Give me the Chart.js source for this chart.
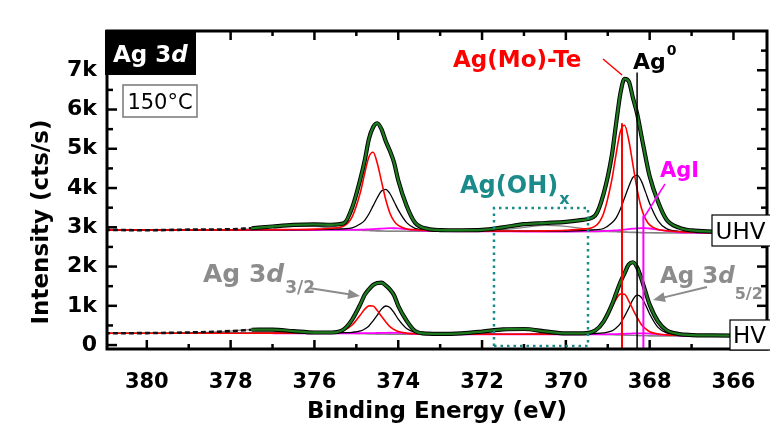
<!DOCTYPE html>
<html>
<head>
<meta charset="utf-8">
<script src="https://cdn.jsdelivr.net/npm/chart.js@4.4.0/dist/chart.umd.min.js"></script>
<style>
  html, body { margin: 0; padding: 0; background: #fff; }
  #wrap { width: 770px; height: 431px; }
</style>
</head>
<body>
<div id="wrap"><canvas id="xps" width="770" height="431"></canvas></div>
<script>
// binding energy grid (eV), shared by every curve
const energy = [381, 380, 379, 378, 377.5, 377, 376.5, 376,
  375.6, 375.3, 375.1, 374.9, 374.8, 374.7, 374.6, 374.5, 374.4, 374.3, 374.2, 374.1, 374.0,
  373.8, 373.6, 373.3, 373, 372.5, 372, 371.5, 371, 370.5, 370,
  369.6, 369.3, 369.1, 368.9, 368.8, 368.7, 368.6, 368.5, 368.4, 368.3, 368.2, 368.1, 368.0,
  367.8, 367.6, 367.3, 367, 366.5, 366, 365.2];

// UHV spectrum (cts/s)
const uhvData = [2935, 2925, 2940, 2950, 2975, 3020, 3060, 3075,
  3065, 3100, 3500, 4250, 4700, 5250, 5550, 5650, 5500, 5200, 4950, 4650, 4200,
  3550, 3120, 2960, 2930, 2925, 2935, 3000, 3080, 3110, 3140,
  3190, 3300, 3850, 4850, 5650, 6400, 6780, 6720, 6300, 5900, 5350, 4800, 4300,
  3650, 3200, 2990, 2920, 2890, 2880, 2870];
const uhvAgMoTe = [2930, 2930, 2931, 2934, 2936, 2939, 2944, 2954,
  2976, 3031, 3267, 3905, 4375, 4791, 4910, 4633, 4171, 3713, 3366, 3158, 3047,
  2957, 2937, 2919, 2911, 2905, 2904, 2904, 2904, 2910, 2923,
  2953, 3029, 3353, 4227, 4869, 5438, 5601, 5224, 4597, 3972, 3498, 3214, 3062,
  2941, 2913, 2888, 2877, 2869, 2865, 2860];
const uhvAg0 = [2930, 2931, 2932, 2933, 2934, 2935, 2937, 2942,
  2950, 2961, 2985, 3089, 3178, 3338, 3545, 3754, 3923, 3967, 3861, 3657, 3442,
  3120, 2975, 2926, 2914, 2908, 2905, 2902, 2902, 2903, 2906,
  2918, 2935, 2969, 3116, 3240, 3461, 3747, 4035, 4269, 4329, 4183, 3902, 3607,
  3165, 2965, 2898, 2881, 2868, 2864, 2859];
const uhvAgI = [2930, 2930, 2930, 2930, 2930, 2930, 2930, 2931,
  2933, 2934, 2935, 2939, 2943, 2947, 2953, 2960, 2967, 2973, 2977, 2976, 2970,
  2951, 2930, 2908, 2901, 2897, 2895, 2894, 2893, 2893, 2892,
  2894, 2897, 2901, 2913, 2921, 2929, 2940, 2952, 2965, 2974, 2979, 2977, 2969,
  2940, 2908, 2874, 2863, 2858, 2857, 2856];
const uhvAgOH = [2931, 2932, 2934, 2942, 2962, 3003, 3039, 3021,
  2985, 2960, 2947, 2934, 2928, 2922, 2917, 2912, 2908, 2905, 2903, 2902, 2900,
  2901, 2898, 2899, 2900, 2903, 2912, 2940, 2999, 3050, 3023,
  2970, 2935, 2919, 2905, 2897, 2891, 2885, 2879, 2875, 2871, 2868, 2865, 2863,
  2861, 2859, 2858, 2858, 2856, 2855, 2855];
const uhvBackground = [2930, 2930, 2930, 2930, 2930, 2930, 2930, 2930,
  2930, 2928, 2925, 2920, 2916, 2912, 2908, 2904, 2901, 2899, 2898, 2897, 2896,
  2895, 2895, 2895, 2895, 2895, 2895, 2894, 2893, 2892, 2890,
  2890, 2889, 2887, 2884, 2880, 2876, 2872, 2868, 2865, 2862, 2860, 2858, 2857,
  2856, 2855, 2855, 2855, 2855, 2855, 2855];

// HV spectrum (cts/s)
const hvData = [300, 305, 320, 355, 390, 395, 355, 320,
  320, 400, 650, 1050, 1280, 1420, 1530, 1580, 1590, 1520, 1420, 1270, 1000,
  620, 360, 290, 285, 300, 345, 400, 410, 350, 300,
  300, 370, 600, 1030, 1320, 1600, 1830, 2050, 2110, 1980, 1700, 1360, 1030,
  600, 380, 280, 255, 245, 240, 238];
const hvAgMoTe = [300, 300, 301, 302, 303, 304, 307, 312,
  325, 378, 512, 775, 912, 999, 996, 881, 733, 593, 468, 395, 344,
  303, 289, 282, 278, 275, 274, 274, 276, 280, 288,
  306, 385, 582, 967, 1168, 1297, 1293, 1126, 910, 705, 524, 417, 341,
  282, 260, 250, 244, 239, 237, 235];
const hvAg0 = [300, 300, 301, 302, 302, 303, 304, 306,
  310, 316, 325, 361, 411, 488, 618, 762, 915, 995, 958, 825, 661,
  421, 324, 290, 281, 277, 276, 274, 274, 276, 279,
  285, 295, 308, 361, 435, 545, 732, 939, 1158, 1271, 1219, 1027, 792,
  450, 309, 260, 248, 240, 237, 235];
const hvAgI = [null, null, null, null, null, 300, 300, 300,
  300, 301, 301, 302, 303, 304, 306, 308, 311, 313, 314, 313, 309,
  298, 288, 276, 273, 271, 270, 270, 270, 270, 271,
  272, 273, 274, 277, 280, 283, 287, 291, 296, 299, 299, 297, 292,
  276, 258, 242, 236, 234, 232, 232];
const hvAgOH = [301, 302, 308, 354, 395, 389, 347, 317,
  308, 302, 299, 294, 291, 288, 285, 282, 280, 278, 276, 275, 275,
  273, 274, 276, 281, 299, 346, 403, 394, 335, 294,
  281, 275, 272, 267, 263, 259, 255, 251, 248, 245, 242, 240, 237,
  235, 232, 232, 232, 232, 232, 232];
const hvBackground = [300, 300, 300, 300, 300, 300, 300, 300,
  300, 298, 296, 292, 289, 286, 283, 280, 278, 276, 274, 273, 272,
  270, 270, 270, 270, 270, 270, 270, 270, 270, 270,
  270, 269, 267, 263, 260, 257, 253, 249, 246, 243, 240, 238, 236,
  234, 232, 232, 232, 232, 232, 232];

// the fit envelope only covers the low-energy side of this value (eV)
const fitStart = 377.5;

// Ag 3d5/2 component positions (eV) and how high their marker lines reach
const markerEnergy = [368.66, 368.30, 368.15];
const markerTop = [5650, 6940, 3300];
const markerColor = ['#ff0000', '#000000', '#ff00ff'];

const xTickValues = [366, 367, 368, 369, 370, 371, 372, 373, 374, 375, 376, 377, 378, 379, 380];
const yTickValues = [0, 500, 1000, 1500, 2000, 2500, 3000, 3500, 4000, 4500, 5000, 5500, 6000, 6500, 7000, 7500];

const FONT = 'DejaVu Sans';
const GREY = '#8c8c8c';
const TEAL = '#1b8a8a';

const pts = arr => energy.map((e, i) => ({ x: e, y: arr[i] }));
const fitPts = arr => energy.map((e, i) => ({ x: e, y: e <= fitStart ? arr[i] : null }));
const tailPts = arr => energy.map((e, i) => ({ x: e, y: e >= fitStart ? arr[i] : null }));

function curve(points, color, width, dash) {
  return { data: points, borderColor: color, borderWidth: width, pointRadius: 0,
    borderDash: dash || [], cubicInterpolationMode: 'monotone', fill: false, spanGaps: false };
}

const datasets = [];
markerEnergy.forEach((e, i) => {
  datasets.push({ data: [{ x: e, y: -100 }, { x: e, y: markerTop[i] }],
    borderColor: markerColor[i], borderWidth: i === 1 ? 1.5 : 2, pointRadius: 0 });
});
[uhvData, hvData].forEach(d => {
  datasets.push(curve(fitPts(d), '#1e7a1e', 2.3));
  datasets.push(curve(fitPts(d), '#000', 4.2));
  datasets.push(curve(tailPts(d), '#111', 2.6, [5, 3]));
});
datasets.push(curve(pts(uhvAgMoTe), '#ff0000', 1.6), curve(pts(uhvAg0), '#000', 1.3),
  curve(pts(uhvAgI), '#ff00ff', 1.8), curve(pts(uhvAgOH), '#808080', 1.3), curve(pts(uhvBackground), '#9a9a9a', 1.2));
datasets.push(curve(pts(hvAgMoTe), '#ff0000', 1.6), curve(pts(hvAg0), '#000', 1.3),
  curve(pts(hvAgI), '#ff00ff', 1.8), curve(pts(hvAgOH), '#808080', 1.3), curve(pts(hvBackground), '#9a9a9a', 1.2));

function text(ctx, s, x, y, font, color, align) {
  ctx.font = font;
  ctx.fillStyle = color;
  ctx.textAlign = align || 'left';
  ctx.textBaseline = 'alphabetic';
  ctx.fillText(s, x, y);
  return ctx.measureText(s).width;
}

function line(ctx, x1, y1, x2, y2) {
  ctx.beginPath();
  ctx.moveTo(x1, y1);
  ctx.lineTo(x2, y2);
  ctx.stroke();
}

function arrow(ctx, x1, y1, x2, y2, color) {
  const a = Math.atan2(y2 - y1, x2 - x1);
  const c = Math.cos(a), s = Math.sin(a);
  ctx.strokeStyle = color;
  ctx.fillStyle = color;
  ctx.lineWidth = 2;
  line(ctx, x1, y1, x2 - 8 * c, y2 - 8 * s);
  ctx.beginPath();
  ctx.moveTo(x2, y2);
  ctx.lineTo(x2 - 12 * c + 5 * s, y2 - 12 * s - 5 * c);
  ctx.lineTo(x2 - 12 * c - 5 * s, y2 - 12 * s + 5 * c);
  ctx.closePath();
  ctx.fill();
}

// frame, inward ticks, axis titles and the labels in the plot
const decorations = {
  id: 'decorations',
  afterDraw(chart) {
    const { ctx, chartArea: a, scales: { x, y } } = chart;
    ctx.save();
    ctx.strokeStyle = '#000';
    ctx.lineWidth = 3;
    ctx.strokeRect(a.left, a.top, a.right - a.left, a.bottom - a.top);

    ctx.lineWidth = 2.5;
    x.ticks.forEach(t => {
      const p = x.getPixelForValue(t.value);
      const len = t.value % 2 === 0 ? 9 : 5;
      line(ctx, p, a.bottom, p, a.bottom - len);
      line(ctx, p, a.top, p, a.top + len);
    });
    y.ticks.forEach(t => {
      const p = y.getPixelForValue(t.value);
      const len = t.value % 1000 === 0 ? 10 : 6;
      line(ctx, a.left, p, a.left + len, p);
      line(ctx, a.right, p, a.right - len, p);
    });

    // axis titles
    ctx.textBaseline = 'middle';
    ctx.textAlign = 'center';
    ctx.fillStyle = '#000';
    ctx.font = 'bold 23px ' + FONT;
    ctx.fillText('Binding Energy (eV)', (a.left + a.right) / 2, 412);
    ctx.save();
    ctx.translate(42, 222);
    ctx.rotate(-Math.PI / 2);
    ctx.fillText('Intensity (cts/s)', 0, 0);
    ctx.restore();

    // "Ag 3d" tag
    ctx.fillStyle = '#000';
    ctx.fillRect(105, 30, 91, 45);
    let w = text(ctx, 'Ag 3', 113, 62, 'bold 23px ' + FONT, '#fff');
    text(ctx, 'd', 113 + w, 62, 'italic bold 23px ' + FONT, '#fff');

    // temperature box
    ctx.fillStyle = '#fff';
    ctx.fillRect(123, 85, 74, 32);
    ctx.strokeStyle = '#777';
    ctx.lineWidth = 1.5;
    ctx.strokeRect(123, 85, 74, 32);
    text(ctx, '150°C', 160, 109, '21px ' + FONT, '#000', 'center');

    // spectrum tags
    ctx.strokeStyle = '#000';
    ctx.lineWidth = 1.2;
    [['UHV', 712, 215, 60, 31], ['HV', 730, 320, 42, 30]].forEach(([s, bx, by, bw, bh]) => {
      ctx.fillStyle = '#fff';
      ctx.fillRect(bx, by, bw, bh);
      ctx.strokeRect(bx, by, bw, bh);
      text(ctx, s, bx + (Math.min(bx + bw, 769) - bx) / 2, by + bh - 7, '23px ' + FONT, '#000', 'center');
    });

    // component labels
    text(ctx, 'Ag(Mo)-Te', 453, 67, 'bold 23px ' + FONT, '#ff0000');
    ctx.strokeStyle = '#ff0000';
    ctx.lineWidth = 1.5;
    line(ctx, 603, 59, 622, 75);

    w = text(ctx, 'Ag', 633, 69, 'bold 22px ' + FONT, '#000');
    text(ctx, '0', 634 + w, 55, 'bold 14px ' + FONT, '#000');

    text(ctx, 'AgI', 660, 177, 'bold 21px ' + FONT, '#ff00ff');
    ctx.strokeStyle = '#ff00ff';
    ctx.lineWidth = 1.5;
    line(ctx, 665, 184, 643, 219);

    w = text(ctx, 'Ag(OH)', 460, 193, 'bold 24px ' + FONT, TEAL);
    text(ctx, 'x', 461 + w, 204, 'bold 16px ' + FONT, TEAL);
    ctx.strokeStyle = TEAL;
    ctx.lineWidth = 2.5;
    ctx.setLineDash([2.5, 4]);
    ctx.beginPath();
    ctx.moveTo(494, 346);
    ctx.lineTo(494, 208);
    ctx.lineTo(588, 208);
    ctx.lineTo(588, 346);
    ctx.lineTo(494, 346);
    ctx.stroke();
    ctx.setLineDash([]);

    // spin-orbit doublet labels
    w = text(ctx, 'Ag 3', 203, 282, 'bold 25px ' + FONT, GREY);
    w += text(ctx, 'd', 203 + w, 282, 'italic bold 25px ' + FONT, GREY);
    text(ctx, '3/2', 204 + w, 293, 'bold 17px ' + FONT, GREY);
    arrow(ctx, 309, 288, 360, 296, GREY);

    w = text(ctx, 'Ag 3', 660, 283, 'bold 23px ' + FONT, GREY);
    w += text(ctx, 'd', 660 + w, 283, 'italic bold 23px ' + FONT, GREY);
    text(ctx, '5/2', 660 + w, 299, 'bold 16px ' + FONT, GREY);
    arrow(ctx, 707, 287, 653, 300, GREY);

    ctx.restore();
  }
};

new Chart(document.getElementById('xps'), {
  type: 'line',
  data: { datasets },
  options: {
    responsive: false,
    animation: false,
    devicePixelRatio: 1,
    layout: { padding: { top: 31, right: 3, left: 0, bottom: 0 } },
    plugins: { legend: { display: false }, tooltip: { enabled: false } },
    scales: {
      x: {
        type: 'linear',
        reverse: true,
        min: 365.2,
        max: 380.95,
        afterBuildTicks: s => { s.ticks = xTickValues.map(v => ({ value: v })); },
        afterFit: s => { s.height = 82; },
        grid: { display: false, drawTicks: false },
        border: { display: false },
        ticks: {
          autoSkip: false,
          maxRotation: 0,
          padding: 21,
          color: '#000',
          font: { family: FONT, weight: 'bold', size: 21 },
          callback: v => (v % 2 === 0 ? String(v) : '')
        }
      },
      y: {
        type: 'linear',
        min: -100,
        max: 8000,
        afterBuildTicks: s => { s.ticks = yTickValues.map(v => ({ value: v })); },
        afterFit: s => { s.width = 107; },
        grid: { display: false, drawTicks: false },
        border: { display: false },
        ticks: {
          autoSkip: false,
          padding: 10,
          color: '#000',
          font: { family: FONT, weight: 'bold', size: 22 },
          callback: v => (v % 1000 === 0 ? (v === 0 ? '0' : v / 1000 + 'k') : '')
        }
      }
    }
  },
  plugins: [decorations]
});
</script>
</body>
</html>
